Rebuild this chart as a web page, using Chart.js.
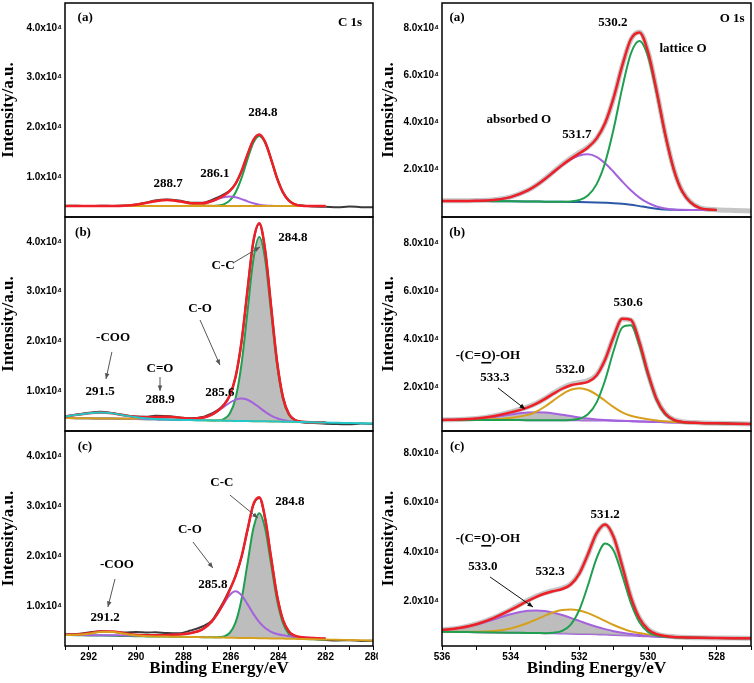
<!DOCTYPE html>
<html>
<head>
<meta charset="utf-8">
<title>XPS C 1s / O 1s</title>
<script src="https://cdn.jsdelivr.net/npm/chart.js@4.4.1/dist/chart.umd.min.js"></script>
<style>
  html, body { margin: 0; padding: 0; background: #fff; }
  #wrap { position: relative; width: 754px; height: 683px; overflow: hidden; background: #fff; }
  #wrap canvas { position: absolute; }
</style>
</head>
<body>
<div id="wrap">
  <canvas id="cA" width="378" height="219" style="left:0px;top:0px"></canvas>
  <canvas id="cB" width="378" height="218" style="left:0px;top:215px"></canvas>
  <canvas id="cC" width="378" height="254" style="left:0px;top:429px"></canvas>
  <canvas id="oA" width="376" height="219" style="left:378px;top:0px"></canvas>
  <canvas id="oB" width="376" height="218" style="left:378px;top:215px"></canvas>
  <canvas id="oC" width="376" height="254" style="left:378px;top:429px"></canvas>
</div>
<script>
// binding energy (eV), intensities in 10^3 counts
const cEnergy = [293, 292.5, 292, 291.5, 291, 290.5, 290, 289.5, 289.2, 288.7, 288.2, 287.7, 287.2, 286.8, 286.55, 286.3, 286.05, 285.8, 285.55, 285.3, 285.05, 284.8, 284.55, 284.3, 284.05, 283.8, 283.55, 283.3, 283, 282.5, 282, 281.5, 281, 280.5, 280];
const oEnergy = [536, 535.5, 535, 534.5, 534, 533.5, 533.25, 533, 532.75, 532.5, 532.25, 532, 531.75, 531.5, 531.25, 531, 530.75, 530.5, 530.25, 530, 529.75, 529.5, 529.25, 529, 528.5, 528, 527.5, 527];

const cTickValues = [10, 20, 30, 40];
const cTickLabels = ["1.0x10\u2074", "2.0x10\u2074", "3.0x10\u2074", "4.0x10\u2074"];
const oTickValues = [20, 40, 60, 80];
const oTickLabels = ["2.0x10\u2074", "4.0x10\u2074", "6.0x10\u2074", "8.0x10\u2074"];

// C 1s (a)
const c1Raw = [4.22, 4.26, 4.2, 4.27, 4.23, 4.32, 4.52, 4.98, 5.32, 5.5, 5.3, 4.86, 4.85, 5.45, 5.95, 6.55, 7.3, 8.7, 11.2, 14.5, 17.4, 18.5, 17.0, 13.6, 9.8, 6.95, 5.3, 4.55, 4.3, 4.12, 4.05, 3.95, 4.1, 3.98, 3.95];
const c1Fit = [4.2, 4.2, 4.2, 4.2, 4.21, 4.28, 4.48, 4.89, 5.17, 5.4, 5.17, 4.78, 4.75, 5.22, 5.71, 6.31, 7.19, 8.7, 11.2, 14.51, 17.47, 18.58, 17.04, 13.6, 9.81, 6.94, 5.29, 4.55, 4.27, 4.2, 4.2];
const c1Base = [4.2, 4.2, 4.2, 4.2, 4.2, 4.2, 4.2, 4.2, 4.2, 4.2, 4.2, 4.2, 4.2, 4.2, 4.2, 4.2, 4.2, 4.2, 4.2, 4.2, 4.2, 4.2, 4.2, 4.2, 4.2, 4.2, 4.2, 4.2, 4.2, 4.2, 4.2];
const c1CC = [4.2, 4.2, 4.2, 4.2, 4.2, 4.2, 4.2, 4.2, 4.2, 4.2, 4.2, 4.2, 4.2, 4.22, 4.29, 4.55, 5.29, 6.94, 9.8, 13.56, 16.92, 18.3, 16.92, 13.56, 9.8, 6.94, 5.29, 4.55, 4.27, 4.2, 4.2];
const c1CO = [4.2, 4.2, 4.2, 4.2, 4.2, 4.2, 4.2, 4.2, 4.2, 4.2, 4.2, 4.27, 4.57, 5.15, 5.6, 5.96, 6.1, 5.96, 5.6, 5.15, 4.75, 4.48, 4.32, 4.24, 4.2, 4.2, 4.2, 4.2, 4.2, 4.2, 4.2];
const c1COO = [4.2, 4.2, 4.2, 4.2, 4.21, 4.28, 4.48, 4.89, 5.17, 5.4, 5.17, 4.71, 4.38, 4.25, 4.22, 4.2, 4.2, 4.2, 4.2, 4.2, 4.2, 4.2, 4.2, 4.2, 4.2, 4.2, 4.2, 4.2, 4.2, 4.2, 4.2];

// C 1s (b)
const c2Raw = [4.95, 5.3, 5.65, 5.85, 5.6, 5.2, 4.9, 4.85, 5.05, 5.0, 4.75, 4.55, 4.8, 5.55, 6.2, 7.3, 9.1, 12.9, 19.9, 30.2, 40.0, 43.6, 38.2, 27.0, 16.0, 8.8, 5.4, 4.2, 3.75, 3.6, 3.45, 3.4, 3.35, 3.5, 3.45];
const c2Fit = [4.93, 5.25, 5.59, 5.72, 5.54, 5.15, 4.84, 4.78, 4.83, 4.86, 4.68, 4.48, 4.65, 5.3, 6.07, 7.19, 9.09, 12.85, 19.92, 30.17, 40.06, 43.74, 38.3, 27.0, 15.96, 8.76, 5.42, 4.23, 3.86, 3.75, 3.7];
const c2Base = [4.6, 4.57, 4.55, 4.52, 4.5, 4.45, 4.42, 4.38, 4.35, 4.3, 4.26, 4.2, 4.16, 4.12, 4.1, 4.08, 4.05, 4.03, 4.02, 4.0, 3.98, 3.96, 3.94, 3.92, 3.9, 3.88, 3.86, 3.84, 3.8, 3.75, 3.7];
const c2COO = [4.93, 5.25, 5.59, 5.72, 5.54, 5.13, 4.75, 4.5, 4.41, 4.31, 4.26, 4.2, 4.16, 4.12, 4.1, 4.08, 4.05, 4.03, 4.02, 4.0, 3.98, 3.96, 3.94, 3.92, 3.9, 3.88, 3.86, 3.84, 3.8, 3.75, 3.7, 3.65, 3.6, 3.55, 3.5];
const c2CdO = [4.6, 4.57, 4.55, 4.52, 4.5, 4.47, 4.51, 4.66, 4.77, 4.85, 4.68, 4.39, 4.21, 4.12, 4.1, 4.08, 4.05, 4.03, 4.02, 4.0, 3.98, 3.96, 3.94, 3.92, 3.9, 3.88, 3.86, 3.84, 3.8, 3.75, 3.7];
const c2CO = [4.6, 4.57, 4.55, 4.52, 4.5, 4.45, 4.42, 4.38, 4.35, 4.3, 4.26, 4.29, 4.6, 5.3, 6.01, 6.86, 7.68, 8.3, 8.52, 8.27, 7.61, 6.74, 5.85, 5.1, 4.56, 4.21, 4.01, 3.9, 3.82, 3.75, 3.7];
const c2CC = [4.6, 4.57, 4.55, 4.52, 4.5, 4.45, 4.42, 4.38, 4.35, 4.3, 4.26, 4.2, 4.16, 4.12, 4.16, 4.41, 5.46, 8.58, 15.42, 25.9, 36.43, 40.96, 36.39, 25.82, 15.3, 8.43, 5.27, 4.17, 3.84, 3.75, 3.7];

// C 1s (c)
const c3Raw = [4.3, 4.4, 4.7, 4.95, 4.8, 4.72, 4.8, 4.7, 4.75, 4.6, 4.55, 5.1, 5.9, 7.05, 8.9, 10.9, 13.3, 16.0, 19.8, 25.1, 30.2, 31.6, 27.4, 19.6, 12.1, 7.2, 4.9, 4.0, 3.7, 3.4, 3.2, 3.1, 3.15, 3.0, 3.05];
const c3Fit = [4.26, 4.31, 4.53, 4.88, 4.91, 4.56, 4.24, 4.14, 4.13, 4.19, 4.31, 4.57, 5.32, 6.94, 8.58, 10.68, 13.14, 16.01, 19.85, 25.17, 30.32, 31.77, 27.49, 19.64, 12.09, 7.21, 4.92, 4.07, 3.77, 3.59, 3.49];
const c3Base = [4.2, 4.15, 4.1, 4.08, 4.05, 4.0, 3.95, 3.92, 3.9, 3.88, 3.86, 3.82, 3.77, 3.73, 3.7, 3.68, 3.65, 3.63, 3.61, 3.6, 3.58, 3.56, 3.54, 3.52, 3.5, 3.48, 3.45, 3.43, 3.4, 3.35, 3.3, 3.25, 3.2, 3.15, 3.1];
const c3COO = [4.21, 4.25, 4.46, 4.8, 4.81, 4.44, 4.09, 3.94, 3.9, 3.88, 3.86, 3.82, 3.77, 3.73, 3.7, 3.68, 3.65, 3.63, 3.61, 3.6, 3.58, 3.56, 3.54, 3.52, 3.5, 3.48, 3.45, 3.43, 3.4, 3.35, 3.3, 3.25, 3.2, 3.15, 3.1];
const c3CO = [4.25, 4.21, 4.17, 4.16, 4.15, 4.12, 4.1, 4.12, 4.13, 4.19, 4.31, 4.57, 5.32, 6.94, 8.54, 10.45, 12.19, 12.93, 12.15, 10.37, 8.42, 6.77, 5.59, 4.84, 4.39, 4.13, 3.97, 3.84, 3.73, 3.59, 3.49];
const c3CC = [4.2, 4.15, 4.1, 4.08, 4.05, 4.0, 3.95, 3.92, 3.9, 3.88, 3.86, 3.82, 3.77, 3.73, 3.74, 3.91, 4.6, 6.71, 11.31, 18.4, 25.48, 28.56, 25.44, 18.32, 11.2, 6.56, 4.4, 3.66, 3.44, 3.35, 3.3];

// O 1s (a)
const o1Raw = [6.9, 6.85, 6.95, 7.3, 8.5, 11.3, 13.5, 16.2, 19.2, 22.2, 24.9, 27.3, 29.6, 33.2, 39.6, 50.4, 64.0, 75.0, 78.2, 70.0, 53.5, 35.2, 20.3, 10.9, 4.0, 3.1, 2.8, 2.55];
const o1Fit = [6.8, 6.8, 6.88, 7.23, 8.42, 11.23, 13.41, 16.07, 18.99, 21.94, 24.59, 26.91, 29.42, 33.15, 39.71, 50.51, 64.02, 75.18, 78.01, 69.8, 53.44, 35.1, 20.18, 10.74, 3.86, 3.0];
const o1Base = [6.8, 6.78, 6.75, 6.7, 6.65, 6.58, 6.54, 6.5, 6.45, 6.4, 6.35, 6.3, 6.22, 6.12, 6.0, 5.85, 5.6, 5.2, 4.6, 4.0, 3.5, 3.2, 3.05, 3.0, 2.95, 2.95];
const o1Abs = [6.8, 6.8, 6.88, 7.23, 8.42, 11.23, 13.41, 16.07, 18.99, 21.89, 24.35, 26.0, 26.52, 25.47, 22.75, 19.03, 15.02, 11.31, 8.21, 5.93, 4.44, 3.62, 3.22, 3.06, 2.95, 2.95];
const o1Lat = [6.8, 6.78, 6.75, 6.7, 6.65, 6.58, 6.54, 6.5, 6.45, 6.45, 6.59, 7.21, 9.12, 13.8, 22.96, 37.33, 54.6, 69.07, 74.4, 67.87, 52.5, 34.68, 20.01, 10.68, 3.86, 3.0];

// O 1s (b)
const o2Raw = [6.2, 6.3, 6.75, 7.8, 9.5, 11.6, 13.1, 15.1, 17.4, 19.5, 21.0, 21.8, 22.6, 25.0, 31.4, 40.9, 48.3, 47.9, 38.6, 25.6, 14.9, 8.9, 6.3, 5.35, 4.95, 4.75, 4.6, 4.45];
const o2Fit = [6.13, 6.27, 6.68, 7.67, 9.28, 11.41, 12.93, 14.91, 17.14, 19.17, 20.63, 21.31, 22.03, 24.71, 31.32, 40.94, 48.47, 48.03, 38.7, 25.7, 14.9, 8.79, 6.2, 5.29, 4.88, 4.7, 4.55, 4.4];
const o2Base = [6.1, 6.1, 6.1, 6.08, 6.06, 6.04, 6.03, 6.02, 6.01, 6.0, 5.98, 5.95, 5.92, 5.88, 5.84, 5.78, 5.7, 5.6, 5.5, 5.4, 5.3, 5.2, 5.1, 5.0, 4.85, 4.7, 4.55, 4.4];
const o2Acid = [6.13, 6.24, 6.58, 7.32, 8.38, 9.21, 9.33, 9.19, 8.83, 8.32, 7.74, 7.19, 6.72, 6.36, 6.11, 5.92, 5.77, 5.63, 5.5, 5.4, 5.3, 5.2, 5.1, 5.0, 4.85, 4.7, 4.55, 4.4];
const o2Mid = [6.1, 6.13, 6.2, 6.43, 6.96, 8.24, 9.63, 11.74, 14.32, 16.85, 18.73, 19.4, 18.67, 16.73, 14.15, 11.5, 9.3, 7.9, 7.0, 6.4, 5.9, 5.55, 5.3, 5.1, 4.88, 4.7, 4.55, 4.4];
const o2Lat = [6.1, 6.1, 6.1, 6.08, 6.06, 6.04, 6.03, 6.02, 6.01, 6.0, 6.12, 6.62, 8.48, 13.38, 22.74, 35.08, 44.8, 45.7, 37.2, 24.7, 14.3, 8.44, 6.0, 5.19, 4.85, 4.7, 4.55, 4.4];

// O 1s (c)
const o3Raw = [8.6, 9.4, 11.0, 13.5, 16.8, 20.6, 22.3, 23.6, 24.6, 25.5, 27.2, 31.5, 39.1, 47.5, 51.1, 46.0, 34.3, 21.9, 13.4, 8.9, 7.0, 6.2, 5.85, 5.65, 5.45, 5.35, 5.3, 5.2];
const o3Fit = [8.53, 9.34, 10.91, 13.38, 16.66, 20.31, 21.98, 23.3, 24.29, 25.14, 26.94, 31.38, 39.13, 47.62, 51.24, 46.15, 34.35, 21.88, 13.32, 8.83, 6.92, 6.16, 5.78, 5.59, 5.4, 5.32, 5.25, 5.2];
const o3Base = [7.9, 7.8, 7.7, 7.6, 7.5, 7.4, 7.35, 7.3, 7.22, 7.15, 7.08, 7.0, 6.9, 6.8, 6.7, 6.58, 6.45, 6.3, 6.15, 6.0, 5.85, 5.72, 5.6, 5.5, 5.4, 5.32, 5.25, 5.2];
const o3Acid = [8.53, 9.32, 10.78, 12.84, 14.96, 16.3, 16.45, 16.2, 15.55, 14.61, 13.47, 12.24, 11.0, 9.88, 8.91, 8.1, 7.45, 6.93, 6.53, 6.22, 5.97, 5.78, 5.63, 5.51, 5.4, 5.32, 5.25, 5.2];
const o3Mid = [7.9, 7.82, 7.83, 8.14, 9.2, 11.41, 12.88, 14.4, 15.72, 16.61, 16.88, 16.46, 15.4, 13.9, 12.23, 10.59, 9.15, 8.0, 7.35, 6.8, 6.35, 6.02, 5.75, 5.58, 5.4, 5.32, 5.25, 5.2];
const o3Lat = [7.9, 7.8, 7.7, 7.6, 7.5, 7.4, 7.35, 7.3, 7.46, 8.22, 10.75, 16.68, 26.53, 37.44, 43.5, 40.62, 30.65, 19.55, 11.74, 7.81, 6.3, 5.8, 5.6, 5.5, 5.4, 5.32, 5.25, 5.2];

// annotations: [energy, intensity, text, underlined char index]
const cNotesA = [[292.15, 42.0, "(a)"], [280.97, 41.0, "C 1s"], [284.65, 22.9, "284.8"], [286.67, 10.8, "286.1"], [288.65, 8.8, "288.7"]];
const cNotesB = [[292.24, 41.8, "(b)"], [283.38, 40.8, "284.8"], [286.33, 35.15, "C-C"], [290.97, 20.7, "-COO"], [291.52, 9.85, "291.5"], [288.99, 14.45, "C=O"], [288.99, 8.25, "288.9"], [287.3, 26.5, "C-O"], [286.46, 9.65, "285.6"]];
const cArrowsB = [[285.91, 35.75, 284.77, 38.97], [291.02, 17.9, 291.27, 12.45], [288.99, 12.85, 288.99, 10.05], [287.3, 24.3, 286.46, 15.26]];
const cNotesC = [[292.16, 41.8, "(c)"], [286.38, 34.6, "C-C"], [283.51, 30.8, "284.8"], [287.73, 25.2, "C-O"], [286.76, 14.2, "285.8"], [290.81, 18.2, "-COO"], [291.31, 7.6, "291.2"]];
const cArrowsC = [[286.04, 32.2, 284.86, 27.6], [287.6, 22.8, 286.76, 17.6], [290.89, 15.4, 291.19, 9.8]];
const oNotesA = [[535.56, 84.2, "(a)"], [527.55, 83.7, "O 1s"], [531.02, 82.0, "530.2"], [528.98, 71.0, "lattice O"], [533.76, 41.0, "absorbed O"], [532.07, 34.7, "531.7"]];
const oNotesB = [[535.56, 84.3, "(b)"], [530.58, 55.0, "530.6"], [532.27, 27.0, "532.0"], [534.66, 32.9, "-(C=O)-OH", 4], [534.46, 23.7, "533.3"]];
const oArrowsB = [[534.37, 19.5, 533.58, 10.7]];
const oNotesC = [[535.56, 82.5, "(c)"], [531.25, 55.05, "531.2"], [534.66, 45.35, "-(C=O)-OH", 4], [534.81, 34.0, "533.0"], [532.85, 32.0, "532.3"]];
const oArrowsC = [[534.6, 30.0, 533.35, 17.86]];

const RED = "#ee1f26";
const GREEN = "#1f9f50";
const PURPLE = "#a462dc";
const ORANGE = "#d6a01c";
const CYAN = "#22c7c7";
const BLUE = "#2b58a6";
const RAW_DARK = "#3a3a3a";
const RAW_LIGHT = "#c6c6c6";
const SHADE = "rgba(172, 172, 172, 0.8)";
const SERIF = "'Liberation Serif', 'Times New Roman', serif";
const SANS = "'Liberation Sans', Arial, sans-serif";

function pts(energy, values) {
  return values.map((v, i) => ({ x: energy[i], y: v }));
}

function curve(energy, values, color, width, order, extra) {
  return Object.assign({
    data: pts(energy, values),
    borderColor: color,
    backgroundColor: color,
    borderWidth: width,
    pointRadius: 0,
    fill: false,
    cubicInterpolationMode: "monotone",
    order: order
  }, extra || {});
}

function framePlugin(notes, arrows, arrowColor) {
  return {
    id: "frame",
    afterDraw(chart) {
      const { ctx, chartArea: a } = chart;
      const xs = chart.scales.x, ys = chart.scales.y;
      ctx.save();
      ctx.strokeStyle = "#000";
      ctx.lineWidth = 1.5;
      ctx.strokeRect(a.left, a.top, a.right - a.left, a.bottom - a.top);

      ctx.strokeStyle = arrowColor;
      ctx.fillStyle = arrowColor;
      ctx.lineWidth = 1;
      arrows.forEach(([e1, v1, e2, v2]) => {
        const x1 = xs.getPixelForValue(e1), y1 = ys.getPixelForValue(v1);
        const x2 = xs.getPixelForValue(e2), y2 = ys.getPixelForValue(v2);
        ctx.beginPath();
        ctx.moveTo(x1, y1);
        ctx.lineTo(x2, y2);
        ctx.stroke();
        const ang = Math.atan2(y2 - y1, x2 - x1);
        ctx.beginPath();
        ctx.moveTo(x2, y2);
        ctx.lineTo(x2 - 6 * Math.cos(ang - 0.4), y2 - 6 * Math.sin(ang - 0.4));
        ctx.lineTo(x2 - 6 * Math.cos(ang + 0.4), y2 - 6 * Math.sin(ang + 0.4));
        ctx.closePath();
        ctx.fill();
      });

      ctx.fillStyle = "#000";
      ctx.font = "bold 13px " + SERIF;
      ctx.textAlign = "center";
      ctx.textBaseline = "middle";
      notes.forEach(([e, v, text, ul]) => {
        const px = xs.getPixelForValue(e), py = ys.getPixelForValue(v);
        ctx.fillText(text, px, py);
        if (ul !== undefined) {
          const w = ctx.measureText(text).width;
          const start = px - w / 2 + ctx.measureText(text.slice(0, ul)).width;
          ctx.fillRect(start, py + 6, ctx.measureText(text[ul]).width, 1.6);
        }
      });
      ctx.restore();
    }
  };
}

function drawPanel(id, p) {
  const isLeft = p.col === "C";
  const isLast = p.row === "c";
  const pad = { a: [3, 2], b: [2, 2], c: [2, 0] }[p.row];
  new Chart(document.getElementById(id), {
    type: "line",
    data: { datasets: p.datasets },
    options: {
      responsive: false,
      animation: false,
      devicePixelRatio: 1,
      events: [],
      layout: { padding: { left: 0, right: isLeft ? 5 : 3, top: pad[0], bottom: pad[1] } },
      plugins: { legend: { display: false }, tooltip: { enabled: false } },
      scales: {
        x: {
          type: "linear",
          reverse: true,
          min: p.xMin,
          max: p.xMax,
          display: isLast,
          border: { display: false },
          grid: { display: true, drawOnChartArea: false, drawTicks: true, tickLength: 4, color: "#000", lineWidth: 1 },
          ticks: {
            stepSize: 1,
            autoSkip: false,
            maxRotation: 0,
            padding: 1,
            color: "#000",
            font: { family: SANS, size: 10, weight: "bold" },
            callback: (v) => (v % 2 === 0 ? String(v) : "")
          },
          title: {
            display: true,
            text: "Binding Energy/eV",
            color: "#000",
            font: { family: SERIF, size: 17, weight: "bold", lineHeight: 1.2 },
            padding: { top: 0, bottom: 4 }
          },
          afterFit: (s) => {
            s.height = isLast ? 37 : 0;
            s.paddingLeft = 0; s.paddingRight = 0; s.paddingTop = 0; s.paddingBottom = 0;
          }
        },
        y: {
          type: "linear",
          min: p.yMin,
          max: p.yMax,
          border: { display: false },
          grid: { display: false, drawTicks: false },
          afterBuildTicks: (s) => { s.ticks = p.tickValues.map((v) => ({ value: v })); },
          ticks: {
            padding: 3,
            color: "#000",
            font: { family: SANS, size: 10, weight: "bold" },
            callback: (v, i) => p.tickLabels[i]
          },
          title: {
            display: true,
            text: "Intensity/a.u.",
            color: "#000",
            font: { family: SERIF, size: 17, weight: "bold", lineHeight: 1 },
            padding: { top: isLeft ? 0.5 : 2.5, bottom: 0 }
          },
          afterFit: (s) => {
            s.width = isLeft ? 65 : 64;
            s.paddingLeft = 0; s.paddingRight = 0; s.paddingTop = 0; s.paddingBottom = 0;
          }
        }
      }
    },
    plugins: [framePlugin(p.notes, p.arrows || [], isLeft ? "#555" : "#111")]
  });
}

const cAxis = { col: "C", xMin: 280, xMax: 293, yMin: 2, yMax: 45, tickValues: cTickValues, tickLabels: cTickLabels };

drawPanel("cA", Object.assign({}, cAxis, {
  row: "a",
  notes: cNotesA,
  datasets: [
    curve(cEnergy, c1Fit, RED, 2.5, 1),
    curve(cEnergy, c1Base, ORANGE, 2, 2),
    curve(cEnergy, c1COO, ORANGE, 2, 2),
    curve(cEnergy, c1CO, PURPLE, 2, 3),
    curve(cEnergy, c1CC, GREEN, 2, 4),
    curve(cEnergy, c1Raw, RAW_DARK, 2, 8)
  ]
}));

drawPanel("cB", Object.assign({}, cAxis, {
  row: "b",
  notes: cNotesB,
  arrows: cArrowsB,
  datasets: [
    curve(cEnergy, c2COO, CYAN, 2, 0),
    curve(cEnergy, c2Fit, RED, 2.5, 1),
    curve(cEnergy, c2CdO, ORANGE, 2, 2),
    curve(cEnergy, c2CO, PURPLE, 2, 3),
    curve(cEnergy, c2CC, GREEN, 2, 4, { fill: { target: 5 }, backgroundColor: SHADE }),
    curve(cEnergy, c2Base, "rgba(0,0,0,0)", 0, 6),
    curve(cEnergy, c2Raw, RAW_DARK, 2, 8)
  ]
}));

drawPanel("cC", Object.assign({}, cAxis, {
  row: "c",
  notes: cNotesC,
  arrows: cArrowsC,
  datasets: [
    curve(cEnergy, c3COO, ORANGE, 2, 0),
    curve(cEnergy, c3Fit, RED, 2.5, 1),
    curve(cEnergy, c3CO, PURPLE, 2, 3),
    curve(cEnergy, c3CC, GREEN, 2, 4, { fill: { target: 4 }, backgroundColor: SHADE }),
    curve(cEnergy, c3Base, "rgba(0,0,0,0)", 0, 6),
    curve(cEnergy, c3Raw, RAW_DARK, 2, 8)
  ]
}));

const oAxis = { col: "O", xMin: 527, xMax: 536, tickValues: oTickValues, tickLabels: oTickLabels };

drawPanel("oA", Object.assign({}, oAxis, {
  row: "a",
  yMin: 0,
  yMax: 90.5,
  notes: oNotesA,
  datasets: [
    curve(oEnergy, o1Fit, RED, 2.5, 0),
    curve(oEnergy, o1Lat, GREEN, 2, 2),
    curve(oEnergy, o1Abs, PURPLE, 2, 3),
    curve(oEnergy, o1Base, BLUE, 2, 4),
    curve(oEnergy, o1Raw, RAW_LIGHT, 5, 8)
  ]
}));

drawPanel("oB", Object.assign({}, oAxis, {
  row: "b",
  yMin: 1.5,
  yMax: 91,
  notes: oNotesB,
  arrows: oArrowsB,
  datasets: [
    curve(oEnergy, o2Fit, RED, 2.5, 0),
    curve(oEnergy, o2Lat, GREEN, 2, 2),
    curve(oEnergy, o2Mid, ORANGE, 2, 3),
    curve(oEnergy, o2Acid, PURPLE, 2, 4, { fill: { target: 4 }, backgroundColor: SHADE }),
    curve(oEnergy, o2Base, PURPLE, 2, 5),
    curve(oEnergy, o2Raw, RAW_LIGHT, 5, 8)
  ]
}));

drawPanel("oC", Object.assign({}, oAxis, {
  row: "c",
  yMin: 2.1,
  yMax: 89,
  notes: oNotesC,
  arrows: oArrowsC,
  datasets: [
    curve(oEnergy, o3Fit, RED, 2.5, 0),
    curve(oEnergy, o3Lat, GREEN, 2, 2),
    curve(oEnergy, o3Mid, ORANGE, 2, 3),
    curve(oEnergy, o3Acid, PURPLE, 2, 4, { fill: { target: 4 }, backgroundColor: SHADE }),
    curve(oEnergy, o3Base, PURPLE, 2, 5),
    curve(oEnergy, o3Raw, RAW_LIGHT, 5, 8)
  ]
}));
</script>
</body>
</html>
